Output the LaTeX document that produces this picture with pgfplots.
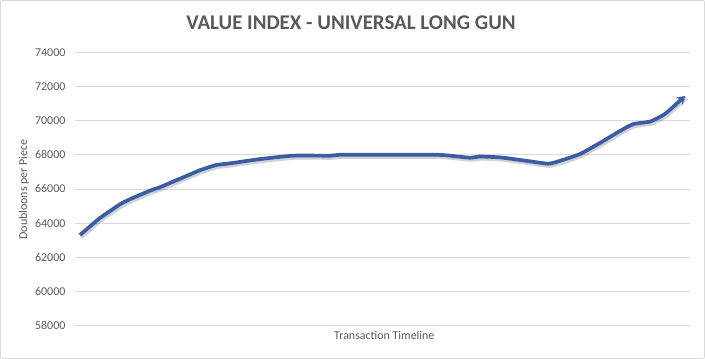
\documentclass[border=0pt]{standalone}
\usepackage{pgfplots}
\pgfplotsset{compat=1.18}
\usepackage{fontspec}
\setmainfont{Carlito}
\usetikzlibrary{arrows.meta}
\definecolor{txt}{HTML}{595959}
\definecolor{grid}{HTML}{D9D9D9}
\definecolor{line}{HTML}{3A5DA6}
\begin{document}
\begin{tikzpicture}[x=1bp,y=1bp]
\draw[draw=grid, line width=0.8bp, rounded corners=2bp] (0.5,0.5) rectangle (704.5,358.5);
\node[text=txt, font=\fontsize{21}{24}\selectfont\bfseries] at (351,336.5) {VALUE INDEX - UNIVERSAL LONG GUN};
\begin{axis}[
  at={(75bp,33.5bp)}, anchor=south west,
  scale only axis, width=615bp, height=273bp,
  xmin=75, xmax=690, ymin=58000, ymax=74000,
  ytick={58000,60000,...,74000},
  scaled y ticks=false,
  yticklabel style={/pgf/number format/fixed, /pgf/number format/1000 sep={}},
  xtick=\empty,
  axis line style={draw=none},
  ymajorgrids, grid style={draw=grid, line width=0.8bp},
  major tick length=0pt,
  /pgf/number format/assume math mode=true,
  yticklabel style={text=txt, font=\fontsize{12}{14}\selectfont, xshift=-6bp},
  ylabel={Doubloons per Piece},
  ylabel style={text=txt, font=\fontsize{12}{14}\selectfont, at={(axis description cs:-0.0829,0.498)}, anchor=center},
  xlabel={Transaction Timeline},
  xlabel style={text=txt, font=\fontsize{12}{14}\selectfont, at={(axis description cs:0.503,0)}, anchor=center, yshift=-10bp},
  clip=false,
]
\addplot[black, opacity=0.18, line width=4.2bp, smooth, tension=0.3, transform canvas={xshift=1.2bp,yshift=-2bp}] coordinates {
(80,63300)(90,63800)(100,64300)(110,64700)(120,65100)(130,65400)(140,65650)(150,65900)(160,66100)(170,66350)(180,66600)(190,66850)(200,67100)(216,67400)(230,67500)(260,67750)(293,67950)(330,67950)(340,68000)(380,68000)(437,68000)(450,67950)(470,67830)(480,67900)(500,67850)(520,67700)(548,67480)(560,67650)(580,68050)(600,68700)(620,69400)(633,69800)(650,69950)(665,70400)(685,71450)
};
\addplot[line, line width=3.7bp, smooth, tension=0.3, -{Stealth[length=8bp,width=10bp]}] coordinates {
(80,63300)(90,63800)(100,64300)(110,64700)(120,65100)(130,65400)(140,65650)(150,65900)(160,66100)(170,66350)(180,66600)(190,66850)(200,67100)(216,67400)(230,67500)(260,67750)(293,67950)(330,67950)(340,68000)(380,68000)(437,68000)(450,67950)(470,67830)(480,67900)(500,67850)(520,67700)(548,67480)(560,67650)(580,68050)(600,68700)(620,69400)(633,69800)(650,69950)(665,70400)(685,71450)
};
\end{axis}
\end{tikzpicture}
\end{document}
